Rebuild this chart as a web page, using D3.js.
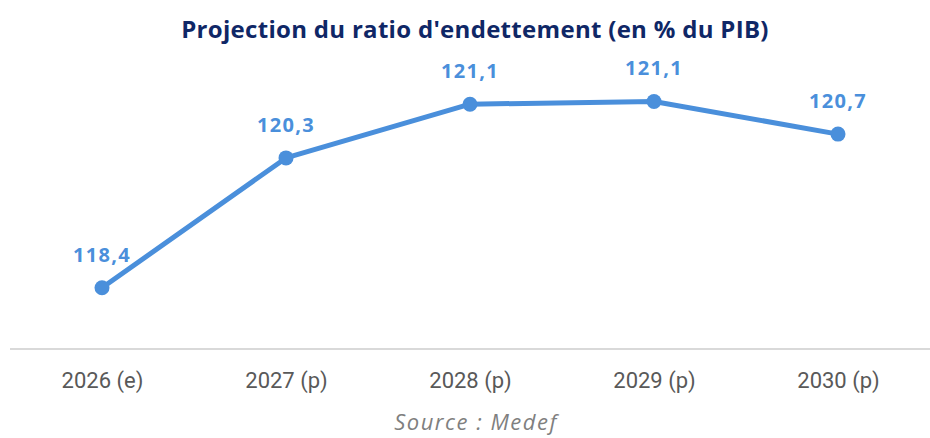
<!DOCTYPE html>
<html lang="fr">
<head>
    <meta charset="UTF-8">
    <title>Projection du ratio d'endettement</title>
    <script src="https://d3js.org/d3.v7.min.js"></script>
    <style>
        body { margin: 0; background: #fff; }
        svg { display: block; }
        .title { font-family: "Open Sans", sans-serif; font-weight: 700; font-size: 24px; fill: #0f2766; letter-spacing: 0.3px; }
        .cat { font-family: Roboto, sans-serif; font-size: 22px; fill: #595959; }
        .val { font-family: "Open Sans", sans-serif; font-weight: 700; font-size: 20px; fill: #4a8fdb; letter-spacing: 1.3px; }
        .source { font-family: "Open Sans", sans-serif; font-style: italic; font-size: 22px; fill: #7f7f7f; letter-spacing: 1.5px; }
    </style>
</head>
<body>
<svg></svg>
<script>
    // data
    const years = ["2026 (e)", "2027 (p)", "2028 (p)", "2029 (p)", "2030 (p)"];
    const ratio = [118.4, 120.31, 121.1, 121.14, 120.66];

    const width = 930, height = 438;
    const margin = { left: 10, right: 0, top: 77, bottom: 89 };

    const svg = d3.select("svg").attr("width", width).attr("height", height);

    const x = d3.scalePoint()
        .domain(years)
        .range([margin.left, width - margin.right])
        .padding(0.5);

    const y = d3.scaleLinear()
        .domain([117.5, 121.5])
        .range([height - margin.bottom, margin.top]);

    const color = "#4a8fdb";

    svg.append("text")
        .attr("class", "title")
        .attr("x", 475)
        .attr("y", 38)
        .attr("text-anchor", "middle")
        .text("Projection du ratio d'endettement (en % du PIB)");

    // bottom axis
    const xAxis = svg.append("g")
        .attr("transform", `translate(0,${height - margin.bottom})`)
        .call(d3.axisBottom(x).tickSize(0).tickPadding(0));
    xAxis.select(".domain").attr("stroke", "#d9d9d9").attr("stroke-width", 2)
        .attr("d", `M${margin.left},0H${width - margin.right}`);
    xAxis.selectAll(".tick text")
        .attr("class", "cat")
        .attr("font-family", null).attr("font-size", null).attr("fill", null)
        .attr("dy", null)
        .attr("y", 39);

    const pts = years.map((d, i) => ({ year: d, v: ratio[i] }));

    const line = d3.line().x(d => x(d.year)).y(d => y(d.v));

    svg.append("path")
        .datum(pts)
        .attr("d", line)
        .attr("fill", "none")
        .attr("stroke", color)
        .attr("stroke-width", 5)
        .attr("stroke-linejoin", "round");

    svg.selectAll(".pt")
        .data(pts)
        .enter().append("circle")
        .attr("class", "pt")
        .attr("cx", d => x(d.year))
        .attr("cy", d => y(d.v))
        .attr("r", 7.5)
        .attr("fill", color);

    svg.selectAll(".val")
        .data(pts)
        .enter().append("text")
        .attr("class", "val")
        .attr("x", d => x(d.year))
        .attr("y", d => y(d.v) - 26)
        .attr("text-anchor", "middle")
        .text(d => d3.format(".1f")(d.v).replace(".", ","));

    svg.append("text")
        .attr("class", "source")
        .attr("x", 476)
        .attr("y", 430)
        .attr("text-anchor", "middle")
        .text("Source : Medef");
</script>
</body>
</html>
